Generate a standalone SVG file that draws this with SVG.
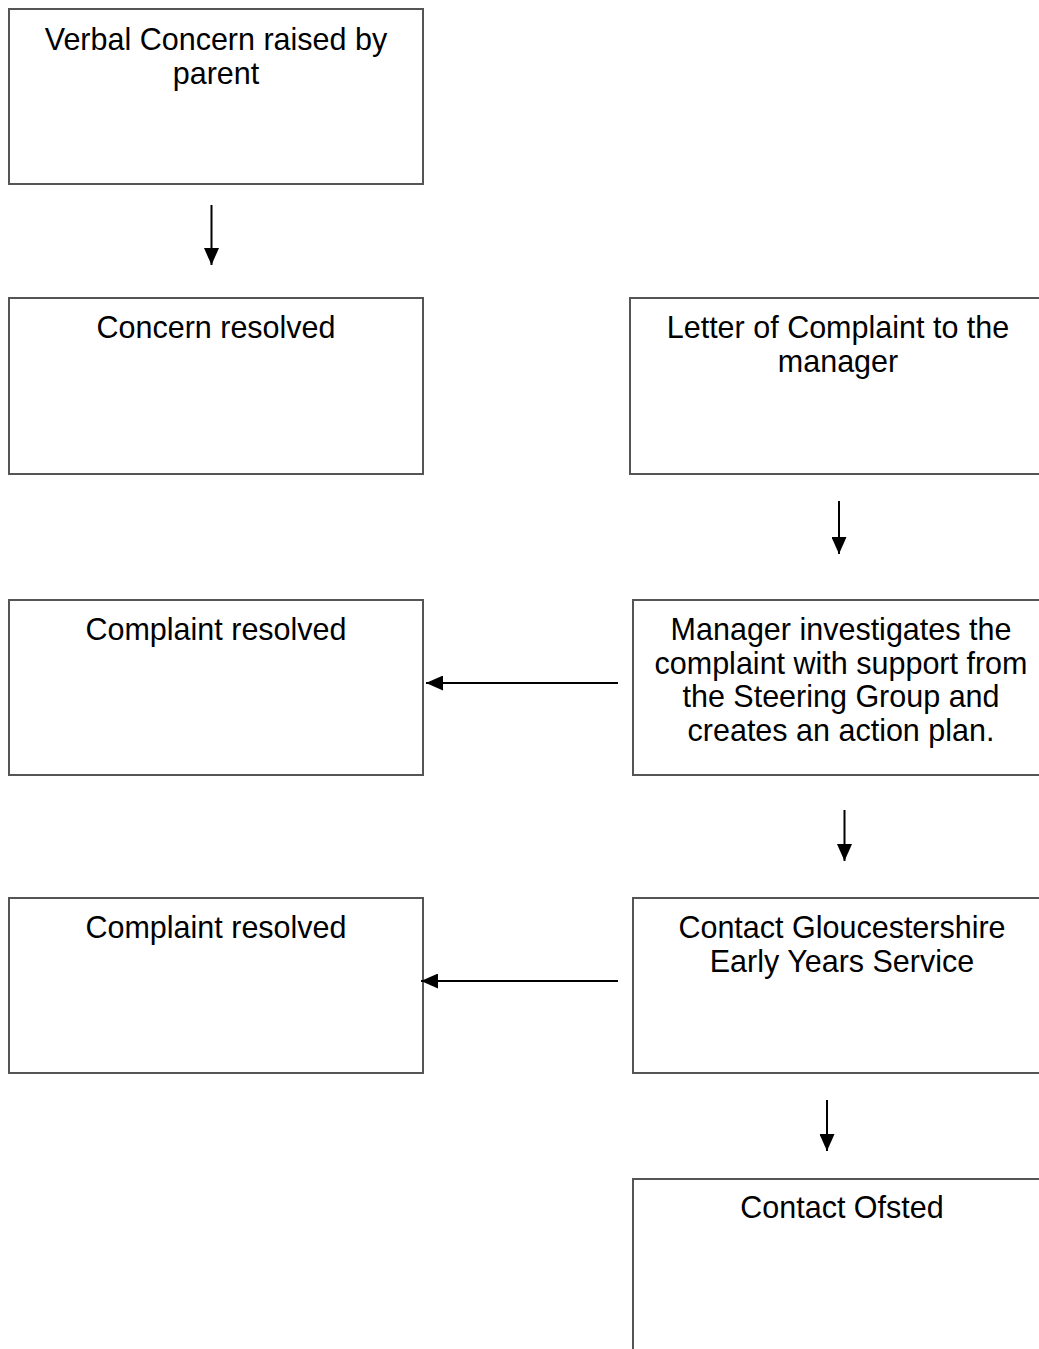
<svg xmlns="http://www.w3.org/2000/svg" width="1039" height="1349" viewBox="0 0 1039 1349">
  <style>
    .box { fill: #ffffff; stroke: #555555; stroke-width: 2; }
    .lbl { font-family: "Liberation Sans", Arial, Helvetica, sans-serif; font-size: 30.5px; fill: #000000; text-anchor: middle; }
    .conn { stroke: #000000; stroke-width: 2; fill: none; marker-end: url(#arrow); }
  </style>
  <defs>
    <marker id="arrow" viewBox="0 0 17 15" refX="17" refY="7.5" markerWidth="17" markerHeight="15" markerUnits="userSpaceOnUse" orient="auto">
      <path d="M0,0 L17,7.5 L0,15 z" fill="#000000"/>
    </marker>
  </defs>
  <rect width="1039" height="1349" fill="#ffffff"/>

  <g id="n1">
    <rect class="box" x="9" y="9" width="414" height="175"/>
    <text class="lbl" x="216" y="50">Verbal Concern raised by</text>
    <text class="lbl" x="216" y="83.5">parent</text>
  </g>
  <g id="n2">
    <rect class="box" x="9" y="298" width="414" height="176"/>
    <text class="lbl" x="216" y="338">Concern resolved</text>
  </g>
  <g id="n3">
    <rect class="box" x="630" y="298" width="414" height="176"/>
    <text class="lbl" x="838" y="338">Letter of Complaint to the</text>
    <text class="lbl" x="838" y="371.5">manager</text>
  </g>
  <g id="n4">
    <rect class="box" x="9" y="600" width="414" height="175"/>
    <text class="lbl" x="216" y="640">Complaint resolved</text>
  </g>
  <g id="n5">
    <rect class="box" x="633" y="600" width="414" height="175"/>
    <text class="lbl" x="841" y="640">Manager investigates the</text>
    <text class="lbl" x="841" y="673.5">complaint with support from</text>
    <text class="lbl" x="841" y="707">the Steering Group and</text>
    <text class="lbl" x="841" y="740.5">creates an action plan.</text>
  </g>
  <g id="n6">
    <rect class="box" x="9" y="898" width="414" height="175"/>
    <text class="lbl" x="216" y="938">Complaint resolved</text>
  </g>
  <g id="n7">
    <rect class="box" x="633" y="898" width="414" height="175"/>
    <text class="lbl" x="842" y="938">Contact Gloucestershire</text>
    <text class="lbl" x="842" y="971.5">Early Years Service</text>
  </g>
  <g id="n8">
    <rect class="box" x="633" y="1179" width="414" height="200"/>
    <text class="lbl" x="842" y="1218">Contact Ofsted</text>
  </g>

  <g id="connectors">
    <line class="conn" x1="211.5" y1="205" x2="211.5" y2="265"/>
    <line class="conn" x1="839" y1="501" x2="839" y2="554"/>
    <line class="conn" x1="844.5" y1="810" x2="844.5" y2="861"/>
    <line class="conn" x1="827" y1="1100" x2="827" y2="1151"/>
    <line class="conn" x1="618" y1="683" x2="426" y2="683"/>
    <line class="conn" x1="618" y1="981" x2="421" y2="981"/>
  </g>
</svg>
